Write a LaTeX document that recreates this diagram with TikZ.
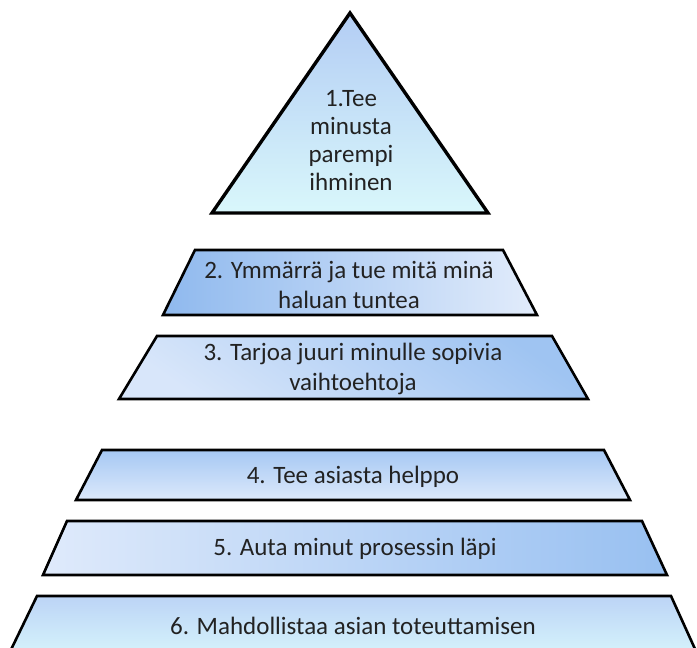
\documentclass[tikz,border=0pt]{standalone}
\usepackage{fontspec}
\setmainfont{Carlito}
\definecolor{triTop}{HTML}{B3CDF4}
\definecolor{triBot}{HTML}{D9F7FB}
\definecolor{tTwoL}{HTML}{8FB9EE}
\definecolor{tTwoR}{HTML}{E2ECFB}
\definecolor{tThreeLight}{HTML}{D8E6FA}
\definecolor{tThreeDark}{HTML}{9FC4F2}
\definecolor{tFourTop}{HTML}{A6C8F3}
\definecolor{tFourBot}{HTML}{DCE9FB}
\definecolor{tFiveL}{HTML}{DFEAFB}
\definecolor{tFiveR}{HTML}{98C0F1}
\definecolor{tSixTop}{HTML}{BCD4F6}
\definecolor{tSixBot}{HTML}{D8F6FC}
\definecolor{txt}{HTML}{222222}
\begin{document}
\begin{tikzpicture}[x=1pt,y=-1pt,
  level/.style={draw=black,line width=2.6pt,line join=miter},
  lbl/.style={text=txt,align=center,font=\fontsize{25}{30}\selectfont,inner sep=0pt}]
\useasboundingbox (0,0) rectangle (697,648);
\fill[white] (0,0) rectangle (697,648);
% level 1 triangle
\path[level,line width=3.4pt,top color=triTop,bottom color=triBot]
  (350,13) -- (488,213) -- (212,213) -- cycle;
\node[lbl,font=\fontsize{25}{28}\selectfont] (l1) at (351,141) {1.Tee\\minusta\\parempi\\ihminen};
% level 2
\path[level,left color=tTwoL,right color=tTwoR]
  (195,250) -- (503,250) -- (537,315) -- (163,315) -- cycle;
\node[lbl] (l2) at (349,285) {2. Ymmärrä ja tue mitä minä\\haluan tuntea};
% level 3
\path[level,top color=tThreeDark,bottom color=tThreeLight,shading angle=-35]
  (157,336) -- (552,336) -- (588,399) -- (119,399) -- cycle;
\node[lbl] (l3) at (353,369) {3. Tarjoa juuri minulle sopivia\\vaihtoehtoja};
% level 4
\path[level,top color=tFourTop,bottom color=tFourBot]
  (102,450) -- (604,450) -- (630,500) -- (76,500) -- cycle;
\node[lbl] (l4) at (353,477) {4. Tee asiasta helppo};
% level 5
\path[level,left color=tFiveL,right color=tFiveR]
  (67,521) -- (642,521) -- (667,575) -- (43,575) -- cycle;
\node[lbl] (l5) at (355,549) {5. Auta minut prosessin läpi};
% level 6
\begin{scope}
\clip (0,0) rectangle (697,648);
\path[level,top color=tSixTop,bottom color=tSixBot]
  (37,596) -- (671,596) -- (700,660) -- (6,660) -- cycle;
\end{scope}
\node[lbl] (l6) at (353,626) {6. Mahdollistaa asian toteuttamisen};
\end{tikzpicture}
\end{document}
